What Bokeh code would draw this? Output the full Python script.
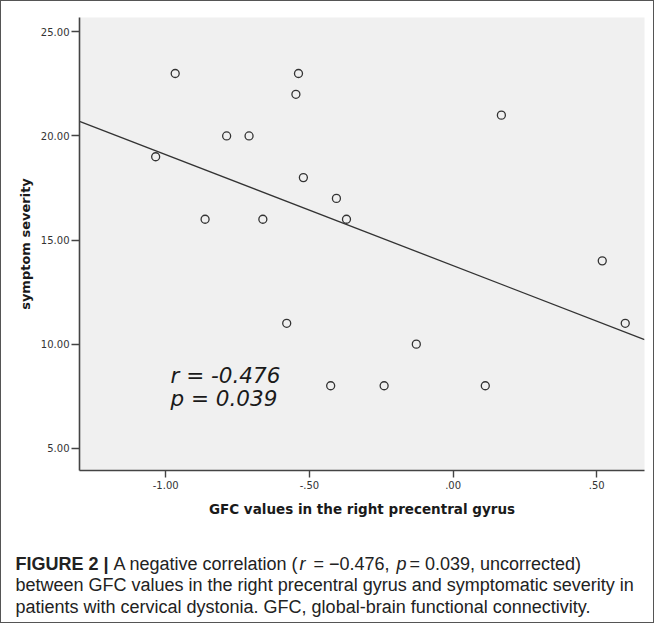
import numpy as np
from bokeh.plotting import figure
from bokeh.layouts import column
from bokeh.models import FixedTicker, Label, Range1d
from bokeh.core.properties import value
from bokeh.embed import file_html
from bokeh.resources import INLINE

# ---- data ----
gfc_values = [-0.967, -0.538, -0.547, 0.168, -0.788, -0.710, -1.035, -0.521, -0.406,
              -0.863, -0.662, -0.371, 0.519, -0.579, 0.599, -0.128, -0.426, -0.240, 0.112]
symptom_severity = [23, 23, 22, 21, 20, 20, 19, 18, 17,
                    16, 16, 16, 14, 11, 11, 10, 8, 8, 8]
x_ticks = [-1.0, -0.5, 0.0, 0.5]
x_tick_labels = ["-1.00", "-.50", ".00", ".50"]
y_ticks = [5, 10, 15, 20, 25]
y_tick_labels = ["5.00", "10.00", "15.00", "20.00", "25.00"]
x_title = "GFC values in the right precentral gyrus"
y_title = "symptom severity"
stat_lines = ["r = -0.476", "p = 0.039"]
caption_line1 = ["FIGURE 2 |", "A negative correlation (", "r", "= \u22120.476,", "p",
                 "= 0.039, uncorrected)"]
caption_line2 = "between GFC values in the right precentral gyrus and symptomatic severity in"
caption_line3 = "patients with cervical dystonia. GFC, global-brain functional connectivity."

x_lo, x_hi = -1.300, 0.666
y_lo, y_hi = 3.93, 25.69

W = 652
H_PLOT = 528
H_CAP = 93

p = figure(width=W, height=H_PLOT, output_backend="svg", toolbar_location=None, tools="",
           x_range=Range1d(x_lo, x_hi), y_range=Range1d(y_lo, y_hi),
           min_border_left=78, min_border_right=9, min_border_top=16, min_border_bottom=59)
p.background_fill_color = "#f0f0f0"
p.border_fill_color = "white"
p.outline_line_color = None
p.grid.visible = False

axis_col = "#444444"
for ax in (p.xaxis[0], p.yaxis[0]):
    ax.axis_line_color = axis_col
    ax.axis_line_width = 1.6
    ax.major_tick_line_color = axis_col
    ax.major_tick_line_width = 1.4
    ax.major_tick_in = 0
    ax.minor_tick_in = 0
    ax.minor_tick_out = 0
    ax.major_label_text_font = "DejaVu Sans"
    ax.major_label_text_font_size = "10px"
    ax.major_label_text_color = "#333333"
    ax.axis_label_text_font = "DejaVu Sans"
    ax.axis_label_text_font_style = "bold"
    ax.axis_label_text_color = "#1a1a1a"

p.xaxis.ticker = FixedTicker(ticks=x_ticks)
p.xaxis.major_label_overrides = {t: l for t, l in zip(x_ticks, x_tick_labels)}
p.xaxis.major_tick_out = 7
p.xaxis.major_label_standoff = 3
p.xaxis.axis_label = x_title
p.xaxis.axis_label_text_font_size = "13.5px"
p.xaxis.axis_label_standoff = 9

p.yaxis.ticker = FixedTicker(ticks=y_ticks)
p.yaxis.major_label_overrides = {t: l for t, l in zip(y_ticks, y_tick_labels)}
p.yaxis.major_tick_out = 8
p.yaxis.major_label_standoff = 2
p.yaxis.axis_label = y_title
p.yaxis.axis_label_text_font_size = "13px"
p.yaxis.axis_label_standoff = 5

# regression line from the data
slope, intercept = np.polyfit(gfc_values, symptom_severity, 1)
fit_x = [x_lo, x_hi]
fit_y = [intercept + slope * v for v in fit_x]
p.line(fit_x, fit_y, line_color="#333333", line_width=1.3)

p.scatter(gfc_values, symptom_severity, marker="circle", size=8,
          fill_color=None, line_color="#333333", line_width=1.3)

# correlation text
for txt, yy in zip(stat_lines, [95, 72]):
    p.add_layout(Label(x=91, y=yy, x_units="screen", y_units="screen", text=txt,
                       text_font="DejaVu Sans", text_font_style="italic",
                       text_font_size="21.5px", text_color="#1a1a1a",
                       text_baseline="alphabetic"))

# caption panel
cap = figure(width=W, height=H_CAP, output_backend="svg", toolbar_location=None, tools="",
             x_range=Range1d(0, W), y_range=Range1d(0, H_CAP),
             x_axis_location=None, y_axis_location=None, min_border=0)
cap.grid.visible = False
cap.outline_line_color = None
cap.background_fill_color = "white"
cap.border_fill_color = "white"
try:
    cap.frame_align = False
    p.frame_align = False
except Exception:
    pass

cap_font = value("Liberation Sans")
cap_col = "#222222"
seg_x = [14, 112, 298, 312, 395, 408]
seg_style = ["bold", "normal", "italic", "normal", "italic", "normal"]
for txt, xx, st in zip(caption_line1, seg_x, seg_style):
    cap.text(x=[xx], y=[59], text=[txt], text_font=cap_font, text_font_size="18px",
             text_font_style=st, text_color=cap_col, text_baseline="alphabetic")
cap.text(x=[14, 14], y=[37.3, 16], text=[caption_line2, caption_line3],
         text_font=cap_font, text_font_size="18px", text_color=cap_col,
         text_baseline="alphabetic")

layout = column(p, cap, spacing=0, styles={"border": "1px solid #555555"})
open("out.html", "w").write(file_html(layout, INLINE))
